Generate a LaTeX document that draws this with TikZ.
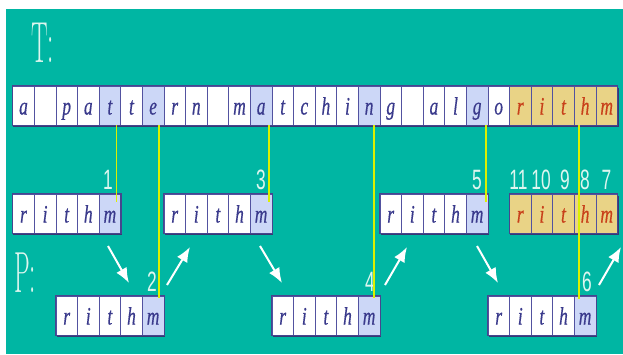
\documentclass[tikz,border=0pt]{standalone}
\usepackage{graphicx}
\usepackage{fontspec}
\newfontfamily\digitfont{Liberation Sans}
\newfontfamily\lettfont[ItalicFeatures={FakeBold=0.6}]{Liberation Serif}
\usetikzlibrary{arrows.meta,backgrounds}

\definecolor{bgteal}{HTML}{00B6A3}
\definecolor{cellline}{HTML}{5252A0}
\definecolor{frameline}{HTML}{46468E}
\definecolor{hlblue}{HTML}{CCD7F7}
\definecolor{hlgold}{HTML}{E9D386}
\definecolor{lettblue}{HTML}{3A3A8C}
\definecolor{lettred}{HTML}{C8401A}
\definecolor{numcol}{HTML}{DDF6EF}
\definecolor{probe}{HTML}{DCF000}

% horizontally condensed text
\newcommand\lettnarrow[1]{\scalebox{0.7}[1]{#1}}
\newcommand\numnarrow[1]{\scalebox{0.62}[1]{#1}}
\newcommand\bignarrow[1]{\scalebox{0.43}[1]{#1}}

\tikzset{
  cell/.style={rectangle, draw=cellline, line width=0.7pt, inner sep=0pt,
    minimum width=21.6pt, minimum height=39pt, text height=18pt, text depth=0pt,
    font=\lettfont\fontsize{25}{25}\selectfont\itshape},
  cw/.style={fill=white, text=lettblue},
  cb/.style={fill=hlblue, text=lettblue},
  cy/.style={fill=hlgold, text=lettred},
  rowframe/.style={draw=frameline, line width=1.2pt},
  rowshadow/.style={fill=frameline!80!black},
  num/.style={inner sep=0pt, text=numcol, font=\digitfont\fontsize{28}{28}\selectfont},
  big/.style={inner sep=0pt, text=numcol, font=\fontsize{58}{58}\selectfont},
  probeline/.style={draw=probe, line width=1.6pt},
  shiftarrow/.style={draw=white, line width=2pt, -{Latex[length=15pt,width=12pt]}},
}

\begin{document}
\begin{tikzpicture}[x=1pt,y=-1pt]
\useasboundingbox (0,0) rectangle (623,354);
\begin{scope}[on background layer]
  \fill[bgteal] (6,9) rectangle (623,354);
\end{scope}

% headings
\node[big] (tlab) at (42.5,43) {\bignarrow{T:}};
\node[big] (plab) at (25,273) {\bignarrow{P:}};

% the text T
\foreach \i/\ch/\st in {0/a/cw,1/{}/cw,2/p/cw,3/a/cw,4/t/cb,5/t/cw,6/e/cb,7/r/cw,
    8/n/cw,9/{}/cw,10/m/cw,11/a/cb,12/t/cw,13/c/cw,14/h/cw,15/i/cw,16/n/cb,
    17/g/cw,18/{}/cw,19/a/cw,20/l/cw,21/g/cb,22/o/cw,23/r/cy,24/i/cy,25/t/cy,
    26/h/cy,27/m/cy}{
  \node[cell,\st] (t\i) at ({23.5+21.6*\i},105.5) {\lettnarrow{\ch}};
}
\begin{scope}[on background layer]
  \fill[rowshadow] ([shift={(1,2)}]t0.north west) rectangle ([shift={(1,2)}]t27.south east);
\end{scope}
\draw[rowframe] (t0.north west) rectangle (t27.south east);

% successive alignments of the pattern P
\foreach \k/\s/\yy in {1/0/213.5,2/2/315.5,3/7/213.5,4/12/315.5,5/17/213.5,6/22/315.5}{
  \foreach \ch/\st [count=\j from 0] in {r/cw,i/cw,t/cw,h/cw,m/cb}{
    \node[cell,\st] (p\k c\j) at ({23.5+21.6*(\s+\j)},\yy) {\lettnarrow{\ch}};
  }
  \begin{scope}[on background layer]
    \fill[rowshadow] ([shift={(1,2)}]p\k c0.north west) rectangle ([shift={(1,2)}]p\k c4.south east);
  \end{scope}
  \draw[rowframe] (p\k c0.north west) rectangle (p\k c4.south east);
}
\foreach \ch [count=\j from 0] in {r,i,t,h,m}{
  \node[cell,cy] (p7c\j) at ({23.5+21.6*(23+\j)},213.5) {\lettnarrow{\ch}};
}
\begin{scope}[on background layer]
  \fill[rowshadow] ([shift={(1,2)}]p7c0.north west) rectangle ([shift={(1,2)}]p7c4.south east);
\end{scope}
\draw[rowframe] (p7c0.north west) rectangle (p7c4.south east);

% comparison counters
\node[num] (n1) at (108,180) {\numnarrow{1}};
\node[num] (n3) at (261,180) {\numnarrow{3}};
\node[num] (n5) at (477,180) {\numnarrow{5}};
\node[num] (n11) at (518.5,180) {\numnarrow{11}};
\node[num] (n10) at (541,180) {\numnarrow{10}};
\node[num] (n9) at (565,180) {\numnarrow{9}};
\node[num] (n8) at (585,180) {\numnarrow{8}};
\node[num] (n7) at (606.5,180) {\numnarrow{7}};
\node[num] (n2) at (152,282) {\numnarrow{2}};
\node[num] (n4) at (370,282) {\numnarrow{4}};
\node[num] (n6) at (587,282) {\numnarrow{6}};

% compared characters
\draw[probeline] ([xshift=6.4pt]t4.south) -- ([xshift=6.4pt,yshift=-8pt]p1c4.north);
\draw[probeline] ([xshift=5.6pt]t6.south) -- ([xshift=5.6pt,yshift=-2pt]p2c4.north);
\draw[probeline] ([xshift=8pt]t11.south) -- ([xshift=8pt,yshift=-8pt]p3c4.north);
\draw[probeline] ([xshift=5pt]t16.south) -- ([xshift=5pt,yshift=-2pt]p4c4.north);
\draw[probeline] ([xshift=8.6pt]t21.south) -- ([xshift=8.6pt,yshift=-8pt]p5c4.north);
\draw[probeline] ([xshift=-6.2pt]t26.south) -- ([xshift=-6.2pt,yshift=-3pt]p6c4.north);

% shifts of the pattern
\coordinate (a1s) at (108,246); \coordinate (a1e) at (129,283);
\coordinate (a2s) at (167,285); \coordinate (a2e) at (190,247);
\coordinate (a3s) at (260,246); \coordinate (a3e) at (282,283);
\coordinate (a4s) at (385,285); \coordinate (a4e) at (407,247);
\coordinate (a5s) at (477,246); \coordinate (a5e) at (498,283);
\coordinate (a6s) at (599,285); \coordinate (a6e) at (621,247);
\foreach \a in {1,...,6}{
  \draw[shiftarrow] (a\a s) -- (a\a e);
}
\end{tikzpicture}
\end{document}
